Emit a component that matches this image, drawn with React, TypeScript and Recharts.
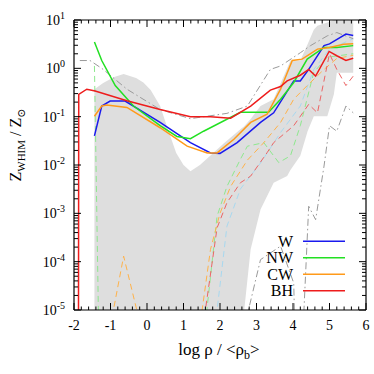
import React from 'react'
import { ComposedChart, Area, Line, XAxis, YAxis, ReferenceLine, Legend } from 'recharts'

const FONT = '"Liberation Serif", "DejaVu Serif", serif'
const PLOT = { left: 74, top: 20, right: 366, bottom: 310 }

// tick labels
const xMajorTicks = [-2, -1, 0, 1, 2, 3, 4, 5, 6]
const yMajorTicks = [1e-5, 1e-4, 1e-3, 1e-2, 1e-1, 1, 10]
const yExponents = ['-5', '-4', '-3', '-2', '-1', '0', '1']

// solid lines
const wX = [-1.44, -1.24, -1.01, -0.6, 0.36, 1.19, 1.74, 2.0, 2.47, 3.11, 3.47, 4.02, 4.2, 4.43, 4.85, 5.0, 5.45, 5.65]
const wY = [0.04, 0.166, 0.21, 0.21, 0.076, 0.029, 0.0178, 0.0174, 0.029, 0.076, 0.12, 0.55, 0.55, 0.95, 2.95, 3.2, 5.1, 4.8]
const nwX = [-1.44, -1.24, -0.87, -0.37, 0.36, 0.82, 1.19, 1.55, 2.56, 2.92, 3.33, 3.66, 4.02, 4.39, 4.85, 5.2, 5.65]
const nwY = [3.5, 1.45, 0.44, 0.166, 0.065, 0.039, 0.035, 0.05, 0.123, 0.123, 0.123, 0.23, 0.51, 1.55, 2.7, 2.7, 2.95]
const cwX = [-1.44, -1.24, -1.1, -0.55, 0.36, 1.1, 1.65, 1.92, 2.38, 2.84, 3.29, 3.66, 3.98, 4.25, 4.67, 5.0, 5.39, 5.65]
const cwY = [0.102, 0.166, 0.174, 0.155, 0.059, 0.0245, 0.0178, 0.0178, 0.034, 0.076, 0.112, 0.37, 1.45, 1.55, 2.5, 2.7, 3.16, 3.24]
const bhX = [-1.88, -1.87, -1.65, -1.42, -0.55, 0.36, 1.19, 1.74, 2.29, 2.84, 3.38, 3.66, 3.84, 4.2, 4.43, 4.62, 4.99, 5.2, 5.45, 5.65]
const bhY = [1e-7, 0.29, 0.37, 0.34, 0.214, 0.141, 0.1, 0.1, 0.093, 0.166, 0.355, 0.42, 0.55, 0.72, 0.95, 0.69, 2.24, 1.82, 1.45, 1.62]

// dashed lines
const wDashX = [1.85, 1.92, 2.19, 2.56, 3.11, 3.66, 4.2, 4.57, 5.0, 5.65]
const wDashY = [1e-7, 1e-5, 5.4e-4, 3.2e-3, 0.011, 0.047, 0.166, 0.95, 2.5, 4.1]
const nwDashX = [-1.44, -1.29, 1.6, 1.64, 1.92, 2.19, 2.56, 2.75, 3.2, 3.61, 3.93, 4.2, 4.57, 4.94, 5.65]
const nwDashY = [1.12, 1e-7, 1e-7, 1e-5, 8.7e-4, 3.6e-3, 0.0132, 0.0245, 0.029, 0.0112, 0.0155, 0.065, 0.83, 1.7, 2.0]
const cwDashX = [-1.0, -0.92, -0.64, -0.28, -0.22, 1.45, 1.51, 1.74, 2.0, 2.29, 2.75, 3.2, 3.66, 4.02, 4.39, 4.85, 5.2, 5.65]
const cwDashY = [1e-7, 1e-5, 1.3e-4, 1e-5, 1e-7, 1e-7, 1e-5, 1.8e-4, 1.0e-3, 3.6e-3, 0.0126, 0.029, 0.076, 0.23, 0.44, 0.95, 1.6, 1.86]
const bhDashX = [1.55, 1.6, 1.92, 2.19, 2.56, 2.84, 3.29, 3.47, 4.02, 4.43, 4.67, 5.0, 5.2, 5.45, 5.65]
const bhDashY = [1e-7, 1e-5, 5e-4, 1.66e-3, 4.3e-3, 5.9e-3, 0.018, 0.029, 0.065, 0.18, 0.12, 2.0, 0.95, 0.44, 0.69]

// grey dash-dot lines
const refUpX = [-1.84, -1.56, -1.2, -0.55, 0.36, 1.19, 2.19, 2.75, 3.38, 3.66, 4.2, 4.48, 4.94, 5.2, 5.65]
const refUpY = [1.45, 1.45, 0.95, 0.37, 0.14, 0.091, 0.117, 0.166, 0.95, 1.12, 2.1, 2.95, 4.7, 5.5, 4.1]
const refLowX = [2.7, 2.78, 3.11, 3.66, 4.02, 4.1, 4.25, 4.3, 4.43, 4.62, 4.85, 5.0, 5.2, 5.45, 5.65]
const refLowY = [1e-7, 1e-5, 1.1e-4, 2.1e-4, 3.6e-5, 1e-7, 1e-7, 1e-5, 1.4e-3, 7.4e-4, 9.5e-3, 0.065, 0.05, 0.166, 0.12]

// grey band
const bandX = [-1.44, -1.2, -0.9, -0.64, -0.3, -0.1, 0.1, 0.36, 0.54, 0.8, 1.0, 1.19, 1.45, 1.74, 2.1, 2.56, 2.62, 2.65, 2.84, 3.11, 3.47, 3.84, 3.93, 4.2, 4.4, 4.57, 4.67, 4.94, 5.12, 5.2, 5.65]
const bandHigh = [0.37, 0.5, 0.66, 0.76, 0.63, 0.51, 0.355, 0.166, 0.065, 0.0178, 0.01, 0.0074, 0.01, 0.0158, 0.028, 0.055, 0.06, 0.062, 0.089, 0.166, 0.23, 1.0, 1.45, 1.45, 3.16, 6.3, 7.6, 8.9, 10, 12, 12]
const bandLow = [1e-7, 1e-7, 1e-7, 1e-7, 1e-7, 1e-7, 1e-7, 1e-7, 1e-7, 1e-7, 1e-7, 1e-7, 1e-7, 1e-7, 1e-7, 1e-7, 1e-7, 8e-6, 1.8e-4, 1.2e-3, 4.3e-3, 5.9e-3, 7.9e-3, 0.0155, 0.05, 0.102, 0.102, 0.102, 0.29, 0.81, 0.81]

const legendNames = ['W', 'NW', 'CW', 'BH']

const pts = (xs: number[], ys: number[]) => xs.map((x, i) => ({ x, y: ys[i] }))
const band = bandX.map((x, i) => ({ x, range: [bandLow[i], bandHigh[i]] }))

const xTicks: number[] = [...xMajorTicks]
for (let i = -2; i < 6; i++) for (let k = 1; k < 5; k++) xTicks.push(Math.round((i + k / 5) * 10) / 10)
const yTicks: number[] = [...yMajorTicks]
for (let n = -5; n <= 0; n++) for (let k = 2; k < 10; k++) yTicks.push(k * Math.pow(10, n))

const isMajorX = (v: number) => xMajorTicks.some((m) => Math.abs(m - v) < 1e-6)
const majorYIndex = (v: number) => yMajorTicks.findIndex((m) => Math.abs(m - v) / m < 1e-6)

const XTick = (props: any) => {
  const { x, payload } = props
  const major = isMajorX(payload.value)
  const len = major ? 7 : 3.5
  return (
    <g>
      <line x1={x} x2={x} y1={PLOT.bottom} y2={PLOT.bottom - len} stroke="#000" strokeWidth={1} />
      <line x1={x} x2={x} y1={PLOT.top} y2={PLOT.top + len} stroke="#000" strokeWidth={1} />
      {major && (
        <text x={x} y={330} textAnchor="middle" fontSize={14} fontFamily={FONT} fill="#000">
          {String(payload.value)}
        </text>
      )}
    </g>
  )
}

const YTick = (props: any) => {
  const { y, payload } = props
  const idx = majorYIndex(payload.value)
  const major = idx >= 0
  const len = major ? 7 : 4
  return (
    <g>
      <line x1={PLOT.left} x2={PLOT.left + len} y1={y} y2={y} stroke="#000" strokeWidth={1} />
      <line x1={PLOT.right} x2={PLOT.right - len} y1={y} y2={y} stroke="#000" strokeWidth={1} />
      {major && (
        <text x={65} y={y + 5} textAnchor="end" fontSize={14} fontFamily={FONT} fill="#000">
          <tspan>10</tspan>
          <tspan dy={-6} fontSize={10}>{yExponents[idx]}</tspan>
        </text>
      )}
    </g>
  )
}

const YLabel = () => (
  <text transform="translate(21,145) rotate(-90)" textAnchor="middle" fontSize={16} fontFamily={FONT} fill="#000">
    <tspan>Z</tspan>
    <tspan dy={4} fontSize={11}>WHIM</tspan>
    <tspan dy={-4}> / Z</tspan>
    <tspan dy={4} fontSize={11}>⊙</tspan>
  </text>
)

const XLabel = () => (
  <text x={219} y={355} textAnchor="middle" fontSize={17} fontFamily={FONT} fill="#000">
    <tspan>log ρ / &lt;ρ</tspan>
    <tspan dy={4} fontSize={12}>b</tspan>
    <tspan dy={-4}>&gt;</tspan>
  </text>
)

const LegendBox = (props: any) => {
  const items = (props.payload || [])
    .filter((p: any) => legendNames.includes(p.value))
    .sort((a: any, b: any) => legendNames.indexOf(a.value) - legendNames.indexOf(b.value))
  return (
    <svg width={120} height={70}>
      {items.map((p: any, i: number) => (
        <g key={p.value}>
          <text x={55} y={i * 16.5 + 13.5} textAnchor="end" fontSize={16} fontFamily={FONT} fill="#000">
            {p.value}
          </text>
          <line x1={65} x2={107} y1={i * 16.5 + 8.2} y2={i * 16.5 + 8.2} stroke={p.color} strokeWidth={1.5} />
        </g>
      ))}
    </svg>
  )
}

export default function App() {
  return (
    <div style={{ position: 'fixed', left: 0, top: 0, width: 374, height: 374, background: '#fff' }}>
      <ComposedChart width={374} height={374} margin={{ top: 20, right: 8, bottom: 0, left: 0 }}>
        <XAxis
          dataKey="x"
          type="number"
          domain={[-2, 6]}
          allowDataOverflow
          ticks={xTicks}
          interval={0}
          tick={<XTick />}
          tickLine={false}
          axisLine={{ stroke: '#000', strokeWidth: 1.2 }}
          height={64}
          label={<XLabel />}
        />
        <YAxis
          type="number"
          scale="log"
          domain={[1e-5, 10]}
          allowDataOverflow
          ticks={yTicks}
          interval={0}
          tick={<YTick />}
          tickLine={false}
          axisLine={{ stroke: '#000', strokeWidth: 1.2 }}
          width={74}
          label={<YLabel />}
        />
        <Area
          data={band}
          dataKey="range"
          type="linear"
          fill="#dedede"
          fillOpacity={1}
          stroke="none"
          legendType="none"
          isAnimationActive={false}
        />
        <Line data={pts(wDashX, wDashY)} dataKey="y" name="W dashed" stroke="#a8d8ef" strokeWidth={1} strokeDasharray="6 4" dot={false} legendType="none" isAnimationActive={false} />
        <Line data={pts(nwDashX, nwDashY)} dataKey="y" name="NW dashed" stroke="#8ee88e" strokeWidth={1} strokeDasharray="6 4" dot={false} legendType="none" isAnimationActive={false} />
        <Line data={pts(cwDashX, cwDashY)} dataKey="y" name="CW dashed" stroke="#ffb24a" strokeWidth={1} strokeDasharray="6 4" dot={false} legendType="none" isAnimationActive={false} />
        <Line data={pts(bhDashX, bhDashY)} dataKey="y" name="BH dashed" stroke="#ec6464" strokeWidth={1} strokeDasharray="6 4" dot={false} legendType="none" isAnimationActive={false} />
        <Line data={pts(refUpX, refUpY)} dataKey="y" name="ref up" stroke="#9a9a9a" strokeWidth={1} strokeDasharray="7 3 1.5 3" dot={false} legendType="none" isAnimationActive={false} />
        <Line data={pts(refLowX, refLowY)} dataKey="y" name="ref low" stroke="#9a9a9a" strokeWidth={1} strokeDasharray="7 3 1.5 3" dot={false} legendType="none" isAnimationActive={false} />
        <Line data={pts(wX, wY)} dataKey="y" name="W" stroke="#1a1aee" strokeWidth={1.5} dot={false} isAnimationActive={false} />
        <Line data={pts(nwX, nwY)} dataKey="y" name="NW" stroke="#22e022" strokeWidth={1.5} dot={false} isAnimationActive={false} />
        <Line data={pts(cwX, cwY)} dataKey="y" name="CW" stroke="#ff9a1a" strokeWidth={1.5} dot={false} isAnimationActive={false} />
        <Line data={pts(bhX, bhY)} dataKey="y" name="BH" stroke="#ee1c1c" strokeWidth={1.5} dot={false} isAnimationActive={false} />
        <ReferenceLine y={10} stroke="#000" strokeWidth={1.2} />
        <ReferenceLine x={6} stroke="#000" strokeWidth={1.2} />
        <Legend
          layout="horizontal"
          verticalAlign="middle"
          align="center"
          content={<LegendBox />}
          wrapperStyle={{ position: 'absolute', left: 238, top: 233, width: 120, height: 70 }}
        />
      </ComposedChart>
    </div>
  )
}
